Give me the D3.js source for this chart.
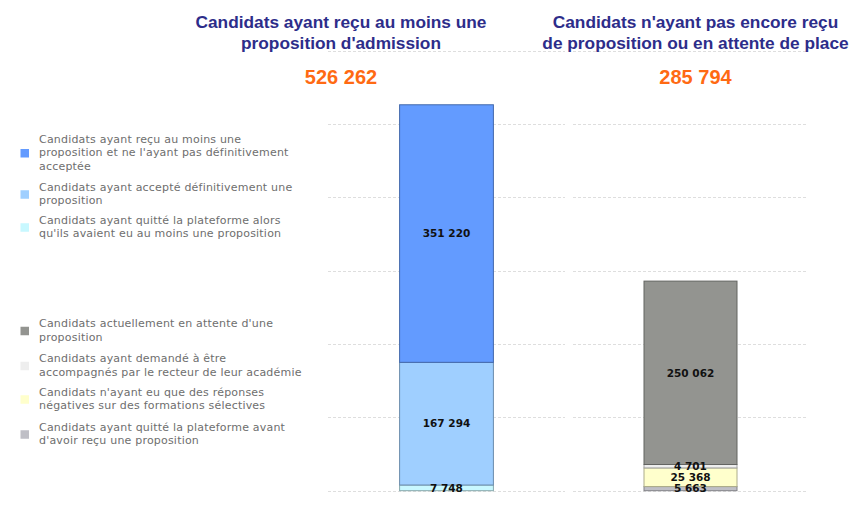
<!DOCTYPE html>
<html><head><meta charset="utf-8">
<script src="https://cdn.jsdelivr.net/npm/d3@7"></script>
<style>body{margin:0;background:#fff;}svg{display:block;}</style>
</head><body>
<svg id="c" width="859" height="505"></svg>
<script>
const panelTitles = [
  ["Candidats ayant reçu au moins une", "proposition d'admission"],
  ["Candidats n'ayant pas encore reçu", "de proposition ou en attente de place"]
];
const panelTotals = ["526 262", "285 794"];
const leftSeries = ["Candidats ayant reçu au moins une proposition et ne l'ayant pas définitivement acceptée",
  "Candidats ayant accepté définitivement une proposition",
  "Candidats ayant quitté la plateforme alors qu'ils avaient eu au moins une proposition"];
const leftValues = [351220, 167294, 7748];
const leftColors = ["#639bff", "#9fcfff", "#c8f8ff"];
const rightSeries = ["Candidats actuellement en attente d'une proposition",
  "Candidats ayant demandé à être accompagnés par le recteur de leur académie",
  "Candidats n'ayant eu que des réponses négatives sur des formations sélectives",
  "Candidats ayant quitté la plateforme avant d'avoir reçu une proposition"];
const rightValues = [250062, 4701, 25368, 5663];
const rightColors = ["#939490", "#eeeeee", "#ffffcc", "#bfbfc6"];
const yTicks = [0, 100000, 200000, 300000, 400000, 500000, 600000];
const legendLines1 = [["Candidats ayant reçu au moins une", "proposition et ne l'ayant pas définitivement", "acceptée"],
  ["Candidats ayant accepté définitivement une", "proposition"],
  ["Candidats ayant quitté la plateforme alors", "qu'ils avaient eu au moins une proposition"]];
const legendLines2 = [["Candidats actuellement en attente d'une", "proposition"],
  ["Candidats ayant demandé à être", "accompagnés par le recteur de leur académie"],
  ["Candidats n'ayant eu que des réponses", "négatives sur des formations sélectives"],
  ["Candidats ayant quitté la plateforme avant", "d'avoir reçu une proposition"]];

const svg = d3.select("#c");
const fmt = v => d3.format(",")(v).replace(/,/g, " ");
const y = d3.scaleLinear().domain([0, 600000]).range([490.7, 50.7]);

const panels = [
  {range: [328, 565], values: leftValues, colors: leftColors, names: leftSeries},
  {range: [573, 808], values: rightValues, colors: rightColors, names: rightSeries}
];

// gridlines
panels.forEach(p => {
  svg.append("g").selectAll("line").data(yTicks).join("line")
    .attr("x1", p.range[0]).attr("x2", p.range[1])
    .attr("y1", d => Math.round(y(d)) + 0.5).attr("y2", d => Math.round(y(d)) + 0.5)
    .attr("stroke", "#dedede").attr("stroke-width", 1).attr("stroke-dasharray", "3,2");
});

// bars
const labelG = [];
panels.forEach((p, i) => {
  const x = d3.scaleBand().domain([i]).range(p.range).paddingInner(0).paddingOuter(0.75);
  let acc = 0;
  const segs = [];
  const order = p.values.map((v, k) => k).reverse();
  order.forEach(k => {
    segs.push({k, y0: acc, y1: acc + p.values[k], v: p.values[k], c: p.colors[k]});
    acc += p.values[k];
  });
  const g = svg.append("g");
  g.selectAll("rect").data(segs).join("rect")
    .attr("x", x(i) + 0.5).attr("width", x.bandwidth() - 1)
    .attr("y", d => y(d.y1)).attr("height", d => y(d.y0) - y(d.y1))
    .attr("fill", d => d.c)
    .attr("stroke", d => d3.color(d.c).darker(1.1))
    .attr("stroke-width", 1);
  labelG.push({segs, cx: x(i) + x.bandwidth() / 2});
});
labelG.forEach(L => {
  svg.append("g").selectAll("text").data(L.segs).join("text")
    .attr("x", L.cx).attr("y", d => (y(d.y0) + y(d.y1)) / 2)
    .attr("dy", "0.36em")
    .attr("text-anchor", "middle")
    .attr("font-family", "DejaVu Sans").attr("font-weight", "bold").attr("font-size", 10.5)
    .attr("fill", "#111")
    .text(d => fmt(d.v));
});

// titles
const titleX = [341, 695.5];
const titleY = [28, 49];
panelTitles.forEach((lines, i) => {
  lines.forEach((t, j) => {
    svg.append("text").attr("x", titleX[i]).attr("y", titleY[j])
      .attr("text-anchor", "middle")
      .attr("font-family", "Liberation Sans, Arial").attr("font-weight", "bold").attr("font-size", 17.3)
      .attr("fill", "#2d2d8a").text(t);
  });
  svg.append("text").attr("x", titleX[i]).attr("y", 84)
    .attr("text-anchor", "middle")
    .attr("font-family", "Liberation Sans, Arial").attr("font-weight", "bold").attr("font-size", 20)
    .attr("fill", "#ff6a13").text(panelTotals[i]);
});

// legends
const legTops1 = [139, 187, 220];
const legTops2 = [323.5, 358.5, 392, 427];
function legend(lines, tops, colors) {
  lines.forEach((ls, k) => {
    const top = tops[k];
    const mid = top + (ls.length - 1) * 13.5 / 2;
    svg.append("rect").attr("x", 20.5).attr("y", mid - 4 + 0.5).attr("width", 8.5).attr("height", 8.5)
      .attr("fill", colors[k]);
    ls.forEach((t, j) => {
      svg.append("text").attr("x", 39).attr("y", top + j * 13.5).attr("dy", "0.35em")
        .attr("font-family", "DejaVu Sans").attr("font-size", 11).attr("letter-spacing", 0.2)
        .attr("fill", "#6e6e6e").text(t);
    });
  });
}
legend(legendLines1, legTops1, leftColors);
legend(legendLines2, legTops2, rightColors);
</script>
</body></html>
